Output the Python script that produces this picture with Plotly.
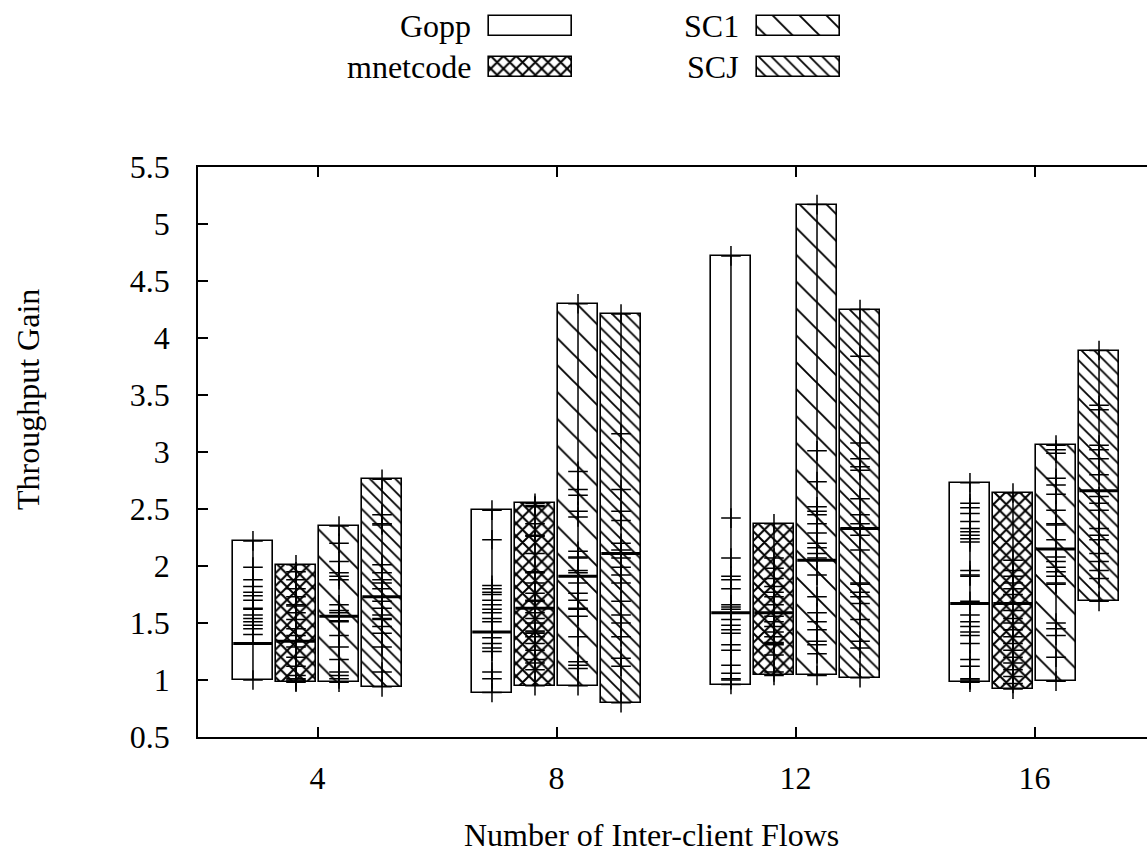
import numpy as np
import plotly.graph_objects as go

# ---------------- data ----------------
groups = [4, 8, 12, 16]
series_names = ["Gopp", "mnetcode", "SC1", "SCJ"]

gopp_min = [1.00, 0.89, 0.96, 0.98]
gopp_max = [2.22, 2.49, 4.72, 2.73]
gopp_med = [1.32, 1.42, 1.59, 1.67]
gopp_pts = [
    [1.99, 1.88, 1.82, 1.77, 1.74, 1.70, 1.63, 1.62, 1.57, 1.54, 1.51, 1.48, 1.45, 1.40],
    [2.23, 1.83, 1.80, 1.77, 1.75, 1.70, 1.66, 1.62, 1.59, 1.54, 1.51, 1.37, 1.32, 1.28, 1.25, 1.07, 1.01],
    [2.42, 2.07, 1.91, 1.88, 1.80, 1.66, 1.64, 1.62, 1.53, 1.48, 1.44, 1.41, 1.31, 1.26, 1.13, 1.06, 1.01, 1.00],
    [2.55, 2.51, 2.46, 2.39, 2.33, 2.30, 2.27, 2.24, 2.21, 1.96, 1.92, 1.91, 1.69, 1.57, 1.51, 1.47, 1.42,
     1.39, 1.32, 1.18, 1.12, 1.01, 1.00],
]

mnet_min = [0.98, 0.95, 1.04, 0.92]
mnet_max = [2.01, 2.55, 2.37, 2.64]
mnet_med = [1.34, 1.63, 1.59, 1.67]
mnet_pts = [
    [1.95, 1.88, 1.80, 1.73, 1.66, 1.65, 1.59, 1.53, 1.45, 1.39, 1.29, 1.20, 1.12, 1.04, 1.01, 1.00, 0.99],
    [2.53, 2.52, 2.37, 2.27, 2.26, 2.11, 1.95, 1.94, 1.85, 1.76, 1.70, 1.69, 1.59, 1.54, 1.50, 1.43, 1.42,
     1.41, 1.38, 1.32, 1.26, 1.18, 1.15, 1.09],
    [2.07, 1.98, 1.89, 1.82, 1.77, 1.73, 1.66, 1.56, 1.51, 1.47, 1.42, 1.38, 1.33, 1.32, 1.31, 1.22, 1.07],
    [2.05, 1.96, 1.91, 1.85, 1.80, 1.75, 1.61, 1.54, 1.50, 1.44, 1.38, 1.32, 1.26, 1.20, 1.15, 1.09, 1.03, 0.97],
]

sc1_min = [0.98, 0.95, 1.04, 0.99]
sc1_max = [2.35, 4.30, 5.17, 3.06]
sc1_med = [1.56, 1.91, 2.05, 2.15]
sc1_pts = [
    [2.20, 2.04, 1.94, 1.91, 1.88, 1.66, 1.61, 1.59, 1.52, 1.51, 1.39, 1.29, 1.18, 1.07, 1.04, 1.01],
    [2.83, 2.67, 2.62, 2.48, 2.43, 2.13, 2.08, 2.07, 1.96, 1.94, 1.85, 1.76, 1.70, 1.63, 1.62, 1.56, 1.38,
     1.16, 1.13, 1.10],
    [3.01, 2.74, 2.52, 2.48, 2.45, 2.37, 2.29, 2.20, 2.16, 2.11, 2.07, 1.92, 1.73, 1.59, 1.51, 1.44, 1.34,
     1.31, 1.23],
    [3.02, 2.99, 2.77, 2.71, 2.63, 2.49, 2.37, 2.36, 2.23, 2.08, 2.04, 1.99, 1.95, 1.91, 1.85, 1.84, 1.50,
     1.45, 1.39, 1.20],
]

scj_min = [0.94, 0.80, 1.02, 1.69]
scj_max = [2.76, 4.21, 4.25, 3.89]
scj_med = [1.73, 2.11, 2.33, 2.66]
scj_pts = [
    [2.45, 2.37, 2.36, 2.01, 1.94, 1.88, 1.85, 1.80, 1.69, 1.63, 1.57, 1.54, 1.53, 1.47, 1.41, 1.29, 1.07],
    [3.16, 2.67, 2.48, 2.40, 2.20, 2.14, 2.07, 1.99, 1.92, 1.85, 1.69, 1.57, 1.50, 1.38, 1.19, 1.12],
    [3.84, 3.08, 2.94, 2.87, 2.84, 2.59, 2.45, 2.37, 2.27, 2.14, 1.85, 1.84, 1.77, 1.73, 1.67, 1.53, 1.34,
     1.28],
    [3.41, 3.37, 3.06, 3.02, 2.94, 2.80, 2.61, 2.55, 2.49, 2.33, 2.27, 2.23, 2.11, 2.04, 1.96, 1.89],
]

y_ticks = [0.5, 1, 1.5, 2, 2.5, 3, 3.5, 4, 4.5, 5, 5.5]
x_title = "Number of Inter-client Flows"
y_title = "Throughput Gain"

# ---------------- styling ----------------
W, H = 1147, 858
ML, MR, MT, MB = 198, 0, 5, 121
PLOT_TOP = 167
FONT = "Liberation Serif, Times New Roman, serif"
FS = 32

offsets = [-1.08, -0.36, 0.36, 1.08]
bar_w = 0.66

patterns = [
    dict(shape=""),
    dict(shape="x", size=9, solidity=0.4, fgcolor="black", bgcolor="white"),
    dict(shape="\\", size=19, solidity=0.1, fgcolor="black", bgcolor="white"),
    dict(shape="\\", size=9, solidity=0.2, fgcolor="black", bgcolor="white"),
]

all_series = [
    (gopp_min, gopp_max, gopp_med, gopp_pts),
    (mnet_min, mnet_max, mnet_med, mnet_pts),
    (sc1_min, sc1_max, sc1_med, sc1_pts),
    (scj_min, scj_max, scj_med, scj_pts),
]

fig = go.Figure()

plot_h = H - MT - MB
def py(ypix):
    return (H - MB - ypix) / plot_h
def px(xpix):
    return (xpix - ML) / (W - ML - MR)

# bars
for i, (mn, mx, md, pts) in enumerate(all_series):
    xs = [g + offsets[i] for g in groups]
    fig.add_trace(go.Bar(
        x=xs, y=list(np.array(mx) - np.array(mn)), base=mn, width=bar_w,
        marker=dict(color="white", line=dict(color="black", width=1.6), pattern=patterns[i]),
        showlegend=False, hoverinfo="skip", xaxis="x", yaxis="y",
    ))

# center lines, medians, points
for i, (mn, mx, md, pts) in enumerate(all_series):
    lx, ly, mxs, mys, qx, qy = [], [], [], [], [], []
    for j, g in enumerate(groups):
        c = g + offsets[i]
        lx += [c, c, None]
        ly += [mn[j], mx[j], None]
        mxs += [c - bar_w / 2, c + bar_w / 2, None]
        mys += [md[j], md[j], None]
        for v in pts[j] + [mn[j], mx[j]]:
            qx.append(c)
            qy.append(v)
    fig.add_trace(go.Scatter(x=lx, y=ly, mode="lines", line=dict(color="black", width=1.5),
                             showlegend=False, hoverinfo="skip"))
    fig.add_trace(go.Scatter(x=mxs, y=mys, mode="lines", line=dict(color="black", width=3),
                             showlegend=False, hoverinfo="skip"))
    fig.add_trace(go.Scatter(x=qx, y=qy, mode="markers",
                             marker=dict(symbol="cross-thin", size=14, color="black",
                                         line=dict(color="black", width=1.5)),
                             showlegend=False, hoverinfo="skip"))

# custom legend (swatches drawn as horizontal bars on helper axes in pixel units)
leg_pos = [(489, 26), (489, 67), (757, 26), (757, 67)]
leg_w = 83
annots = []
for i, name in enumerate(series_names):
    lx0, ly0 = leg_pos[i]
    fig.add_trace(go.Bar(
        y=[ly0], x=[leg_w], base=[lx0], orientation="h", width=20,
        marker=dict(color="white", line=dict(color="black", width=1.6), pattern=patterns[i]),
        showlegend=False, hoverinfo="skip", xaxis="x2", yaxis="y2",
    ))
    annots.append(dict(x=lx0 - 16, y=ly0, xref="x2", yref="y2", text=name, showarrow=False,
                       xanchor="right", yanchor="middle", font=dict(family=FONT, size=FS, color="black")))

annots.append(dict(x=px(651), y=py(835), xref="paper", yref="paper", text=x_title, showarrow=False,
                   xanchor="center", yanchor="middle", font=dict(family=FONT, size=FS, color="black")))
annots.append(dict(x=px(28), y=py(400), xref="paper", yref="paper", text=y_title, showarrow=False,
                   textangle=-90, xanchor="center", yanchor="middle",
                   font=dict(family=FONT, size=FS, color="black")))

x_left = 2.0
x_scale = (1034 - 317) / 12.0
x_right = x_left + (W - MR - ML) / x_scale

fig.update_layout(
    template="none",
    width=W, height=H,
    margin=dict(l=ML, r=MR, t=MT, b=MB, pad=0, autoexpand=False),
    paper_bgcolor="white", plot_bgcolor="white",
    barmode="overlay", bargap=0,
    showlegend=False,
    font=dict(family=FONT, size=FS, color="black"),
    xaxis=dict(domain=[0, 1], anchor="y", range=[x_left, x_right], tickvals=groups,
               ticktext=[str(g) for g in groups], automargin=False,
               ticks="inside", ticklen=10, tickwidth=1.5, tickcolor="black",
               showline=True, linewidth=1.5, linecolor="black", mirror="ticks",
               showgrid=False, zeroline=False, ticklabelstandoff=12,
               tickfont=dict(family=FONT, size=FS, color="black")),
    yaxis=dict(domain=[0, py(PLOT_TOP)], anchor="x", range=[0.5, 5.5], tickvals=y_ticks,
               ticktext=[f"{v:g}" for v in y_ticks], automargin=False,
               ticks="inside", ticklen=10, tickwidth=1.5, tickcolor="black",
               showline=True, linewidth=1.5, linecolor="black", mirror=False,
               showgrid=False, zeroline=False, ticklabelstandoff=20,
               tickfont=dict(family=FONT, size=FS, color="black")),
    xaxis2=dict(domain=[0, 1], anchor="y2", range=[ML, W - MR], visible=False, fixedrange=True,
                automargin=False),
    yaxis2=dict(domain=[py(100), 1], anchor="x2", range=[100, MT], visible=False, fixedrange=True,
                automargin=False),
    annotations=annots,
)

fig.write_html("out.html")
